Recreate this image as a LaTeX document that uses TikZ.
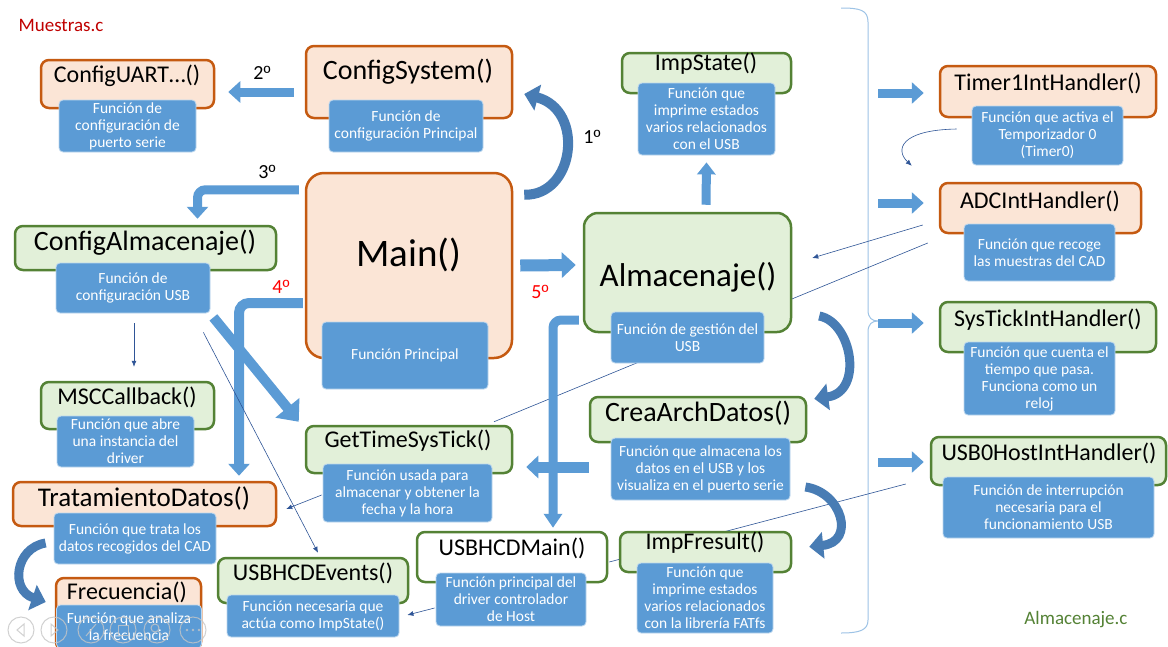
\documentclass[tikz,border=0pt]{standalone}
\usepackage{fontspec}
\setmainfont{Carlito}
\newfontfamily\ordfont{Liberation Sans}
\usetikzlibrary{arrows.meta}
\definecolor{orgline}{RGB}{197,90,17}
\definecolor{orgfill}{RGB}{251,229,214}
\definecolor{grnline}{RGB}{84,130,53}
\definecolor{grnfill}{RGB}{226,240,217}
\definecolor{subblue}{RGB}{91,155,213}
\definecolor{subedge}{RGB}{189,215,238}
\definecolor{crvblue}{RGB}{72,124,180}
\definecolor{fineblue}{RGB}{47,85,151}
\definecolor{bracecol}{RGB}{157,195,230}
\definecolor{muestred}{RGB}{192,0,0}
\pgfdeclarelayer{back}
\pgfsetlayers{back,main}
\newcommand{\subfont}{\fontsize{15.5}{17}\selectfont}
\newcommand{\ttlfont}{\fontsize{24}{28}\selectfont}
\newcommand{\ordo}{{\ordfont\fontsize{19}{24}\selectfont º}}
\tikzset{
  obox/.style={draw=orgline, fill=orgfill, line width=2.5pt, rounded corners=8pt},
  gbox/.style={draw=grnline, fill=grnfill, line width=2.5pt, rounded corners=8pt},
  sbox/.style={fill=subblue, draw=subedge, line width=0.8pt, rounded corners=4pt,
    text=white, align=center, font=\subfont, inner sep=0pt},
  ttl/.style={font=\ttlfont, inner sep=0pt},
  numlbl/.style={font=\fontsize{20}{24}\selectfont, inner sep=0pt},
  blk/.style={draw=subblue, line width=9pt, -{Triangle[width=21pt,length=12pt]}},
  crv/.style={draw=crvblue, line width=9pt, -{Triangle[width=26pt,length=14pt]}},
  fline/.style={draw=fineblue, line width=0.6pt},
  farrow/.style={fline, -{Latex[length=6pt,width=5pt]}},
  navc/.style={draw=gray!45, line width=1pt, opacity=0.8}
}
\begin{document}
\begin{tikzpicture}[x=1pt,y=-1pt]
\useasboundingbox (0,0) rectangle (1168,646);

\node[font=\fontsize{19}{22}\selectfont, text=muestred, inner sep=0pt] (muestras) at (61,25) {Muestras.c};
\node[font=\fontsize{19}{22}\selectfont, text=grnline, inner sep=0pt] (almfile) at (1076,620) {Almacenaje.c};

\node[obox, minimum width=173pt, minimum height=48pt] (cfguart) at (127.5,84) {};
\node[ttl] (cfguart-t) at (127,76) {ConfigUART…()};
\node[sbox, minimum width=137pt, minimum height=52pt] (cfguart-s) at (127.5,126) {Función de\\configuración de\\puerto serie};

\node[obox, minimum width=206pt, minimum height=72pt] (cfgsys) at (409,82) {};
\node[ttl, font=\fontsize{28}{32}\selectfont] (cfgsys-t) at (408,72) {ConfigSystem()};
\node[sbox, minimum width=154pt, minimum height=52pt] (cfgsys-s) at (406,126) {Función de\\configuración Principal};

\node[obox, rounded corners=18pt, minimum width=206pt, minimum height=185pt] (main) at (409,265.5) {};
\node[ttl, font=\fontsize{39}{44}\selectfont] (main-t) at (409,255) {Main()};
\node[sbox, minimum width=166pt, minimum height=67pt] (main-s) at (405,355.5) {Función Principal};

\node[gbox, minimum width=261pt, minimum height=44pt] (cfgalm) at (145.5,248) {};
\node[ttl, font=\fontsize{28}{32}\selectfont] (cfgalm-t) at (145,243) {ConfigAlmacenaje()};
\node[sbox, minimum width=154pt, minimum height=50pt] (cfgalm-s) at (133,288) {Función de\\configuración USB};

\node[gbox, minimum width=173pt, minimum height=47pt] (msc) at (127.5,405.5) {};
\node[ttl] (msc-t) at (127,397) {MSCCallback()};
\node[sbox, minimum width=137pt, minimum height=51pt] (msc-s) at (125.5,441.5) {Función que abre\\una instancia del\\driver};

\node[obox, minimum width=263pt, minimum height=44pt] (trat) at (144.5,504) {};
\node[ttl, font=\fontsize{27}{31}\selectfont] (trat-t) at (144,498) {TratamientoDatos()};
\node[sbox, minimum width=162pt, minimum height=51pt] (trat-s) at (135,538.5) {Función que trata los\\datos recogidos del CAD};

\node[obox, minimum width=145pt, minimum height=72pt] (frec) at (128.5,614) {};
\node[ttl] (frec-t) at (127,592) {Frecuencia()};
\node[sbox, minimum width=145pt, minimum height=43pt] (frec-s) at (129,626.5) {Función que analiza\\la frecuencia};

\node[gbox, minimum width=206pt, minimum height=47pt] (gettime) at (409,449.5) {};
\node[ttl] (gettime-t) at (408,441) {GetTimeSysTick()};
\node[sbox, minimum width=169pt, minimum height=58pt] (gettime-s) at (407.5,493) {Función usada para\\almacenar y obtener la\\fecha y la hora};

\node[gbox, minimum width=190pt, minimum height=45pt] (usbev) at (313,580.5) {};
\node[ttl] (usbev-t) at (313,573) {USBHCDEvents()};
\node[sbox, minimum width=172pt, minimum height=42pt] (usbev-s) at (313,616) {Función necesaria que\\actúa como ImpState()};

\node[gbox, fill=white, minimum width=190pt, minimum height=50pt] (usbmain) at (512,557) {};
\node[ttl] (usbmain-t) at (512,548) {USBHCDMain()};
\node[sbox, minimum width=150pt, minimum height=53pt] (usbmain-s) at (511,599.5) {Función principal del\\driver controlador\\de Host};

\node[gbox, minimum width=169pt, minimum height=40pt] (impst) at (706.5,73) {};
\node[ttl] (impst-t) at (706,64) {ImpState()};
\node[sbox, minimum width=137pt, minimum height=72pt] (impst-s) at (706.5,119) {Función que\\imprime estados\\varios relacionados\\con el USB};

\node[gbox, rounded corners=14pt, minimum width=207pt, minimum height=119pt] (alm) at (687.5,272.5) {};
\node[ttl, font=\fontsize{33}{38}\selectfont] (alm-t) at (688,277) {Almacenaje()};
\node[sbox, minimum width=153pt, minimum height=51pt] (alm-s) at (687.5,337.5) {Función de gestión del\\USB};

\node[gbox, minimum width=216pt, minimum height=45pt] (crea) at (698,419.5) {};
\node[ttl, font=\fontsize{28}{32}\selectfont] (crea-t) at (698,413) {CreaArchDatos()};
\node[sbox, minimum width=179pt, minimum height=62pt] (crea-s) at (700.5,469) {Función que almacena los\\datos en el USB y los\\visualiza en el puerto serie};

\node[gbox, minimum width=171pt, minimum height=40pt] (impfr) at (705.5,552) {};
\node[ttl] (impfr-t) at (705,543) {ImpFresult()};
\node[sbox, minimum width=136pt, minimum height=70pt] (impfr-s) at (705,598) {Función que\\imprime estados\\varios relacionados\\con la librería FATfs};

\node[obox, minimum width=216pt, minimum height=51pt] (timer) at (1048,91.5) {};
\node[ttl] (timer-t) at (1048,83) {Timer1IntHandler()};
\node[sbox, minimum width=151pt, minimum height=59pt] (timer-s) at (1047.5,135.5) {Función que activa el\\Temporizador 0\\(Timer0)};

\node[obox, minimum width=201pt, minimum height=50pt] (adc) at (1040.5,208) {};
\node[ttl] (adc-t) at (1040,201) {ADCIntHandler()};
\node[sbox, minimum width=151pt, minimum height=57pt] (adc-s) at (1039.5,252.5) {Función que recoge\\las muestras del CAD};

\node[gbox, minimum width=216pt, minimum height=50pt] (systick) at (1048,327) {};
\node[ttl] (systick-t) at (1048,320) {SysTickIntHandler()};
\node[sbox, minimum width=151pt, minimum height=73pt] (systick-s) at (1039.5,378.5) {Función que cuenta el\\tiempo que pasa.\\Funciona como un\\reloj};

\node[gbox, minimum width=235pt, minimum height=48pt] (usb0) at (1048.5,461) {};
\node[ttl] (usb0-t) at (1049,453) {USB0HostIntHandler()};
\node[sbox, minimum width=211pt, minimum height=61pt] (usb0-s) at (1048.5,507.5) {Función de interrupción\\necesaria para el\\funcionamiento USB};

\node[numlbl] (n1) at (592,137) {1\ordo};
\node[numlbl] (n2) at (262,73) {2\ordo};
\node[numlbl] (n3) at (267,172) {3\ordo};
\node[numlbl, text=red] (n4) at (281,287) {4\ordo};
\node[numlbl, text=red] (n5) at (540,292) {5\ordo};

\coordinate (tl-timer) at (878,93);
\coordinate (tl-adc) at (878,203);
\coordinate (tl-sys) at (878,323);
\coordinate (tl-usb0) at (878,462);

\begin{pgfonlayer}{back}
\fill[white] (0,0) rectangle (1168,646);
\draw[bracecol, line width=1pt] (841,8) .. controls (860,8) and (868,10) .. (868,22) -- (868,310)
  .. controls (868,318) and (872,321) .. (878,321) .. controls (872,321) and (868,324) .. (868,332)
  -- (868,620) .. controls (868,630) and (860,633) .. (841,633);
\draw[fline] ([shift={(-11,35)}]adc.west) -- ([shift={(85,-3)}]gettime.north);
\draw[fline] ([shift={(-24,23)}]usb0.west) -- ([shift={(1,5)}]usbmain.east);
\end{pgfonlayer}

\draw[blk] ([shift={(-11,10)}]cfgsys.west) -- ([shift={(13,8)}]cfguart.east);
\draw[blk, rounded corners=8pt] ([shift={(-6,18)}]main.north west) -| ([shift={(52,-6)}]cfgalm.north);
\draw[blk, line width=10pt, rounded corners=10pt] ([shift={(-2,37.5)}]main.west) -| ([shift={(94.5,-5)}]trat.north);
\draw[blk, line width=10pt, -{Triangle[width=30pt,length=18pt]}] ([shift={(3,4)}]cfgalm-s.south east) -- ([shift={(-6,-3)}]gettime.north west);
\draw[blk, line width=12pt, -{Triangle[width=25pt,length=14pt]}] ([shift={(7,0)}]main.east) -- ([shift={(-7,-7.5)}]alm.west);
\draw[blk, -{Triangle[width=18pt,length=12pt]}] ([shift={(18.5,-7)}]alm.north) -- ([shift={(0,7)}]impst-s.south);
\draw[blk, rounded corners=8pt, -{Triangle[width=18pt,length=14pt]}] ([shift={(-4,47.5)}]alm.west) -| ([shift={(41,-3)}]usbmain.north);
\draw[blk, line width=11pt, -{Triangle[width=22pt,length=12pt]}] ([shift={(0,47.5)}]crea.west) -- ([shift={(13,17.5)}]gettime.east);
\draw[blk] (tl-timer) -- ([shift={(-15,1.5)}]timer.west);
\draw[blk] (tl-adc) -- ([shift={(-15,-5)}]adc.west);
\draw[blk] (tl-sys) -- ([shift={(-15,-4)}]systick.west);
\draw[blk] (tl-usb0) -- ([shift={(-6,1)}]usb0.west);

\draw[crv, line width=10pt] ([shift={(11,23)}]main.north east) .. controls (575,196) and (585,110) .. ([shift={(11,12)}]cfgsys.east);
\draw[crv] ([shift={(27,43.5)}]alm.east) .. controls (852,322) and (864,392) .. ([shift={(7,3)}]crea.north east);
\draw[crv] ([shift={(15,18)}]crea-s.east) .. controls (842,492) and (856,542) .. ([shift={(17,16)}]impfr.north east);
\draw[crv] ([shift={(-8,4.5)}]trat-s.west) .. controls (15,548) and (10,590) .. ([shift={(-9,-12)}]frec.west);

\draw[farrow] ([shift={(1,10)}]cfgalm-s.south) -- ([shift={(6.5,-14)}]msc.north);
\draw[farrow] ([shift={(-7,19)}]cfgalm-s.south east) -- ([shift={(5,-4)}]usbev.north);
\draw[farrow] ([shift={(-16,17)}]adc.west) -- ([shift={(20,-14.5)}]alm.east);
\draw[farrow] ([shift={(-15,-6.5)}]timer-s.west) .. controls (900,130) and (895,150) .. ([shift={(-27,-16)}]adc.north west);
\draw[farrow] ([shift={(-1,2)}]gettime-s.west) -- ([shift={(9,5)}]trat.east);
\draw[farrow] ([shift={(-1,8.5)}]usbmain-s.west) -- ([shift={(8,-1)}]usbev-s.east);

\foreach \x in {21,54,91,123,157,193}
  \draw[navc] (\x,630) circle[radius=13pt];
\draw[navc] (24,624) -- (17,630) -- (24,636) -- cycle;
\draw[navc] (51,624) -- (58,630) -- (51,636) -- cycle;
\draw[navc] (86,636) -- (96,624);
\draw[navc] (118,625) rectangle (128,635);
\draw[navc] (155,628) circle[radius=4pt] (158,631) -- (162,635);
\foreach \x in {187,193,199}
  \fill[gray!45, opacity=0.8] (\x,630) circle[radius=1.3pt];
\end{tikzpicture}
\end{document}
